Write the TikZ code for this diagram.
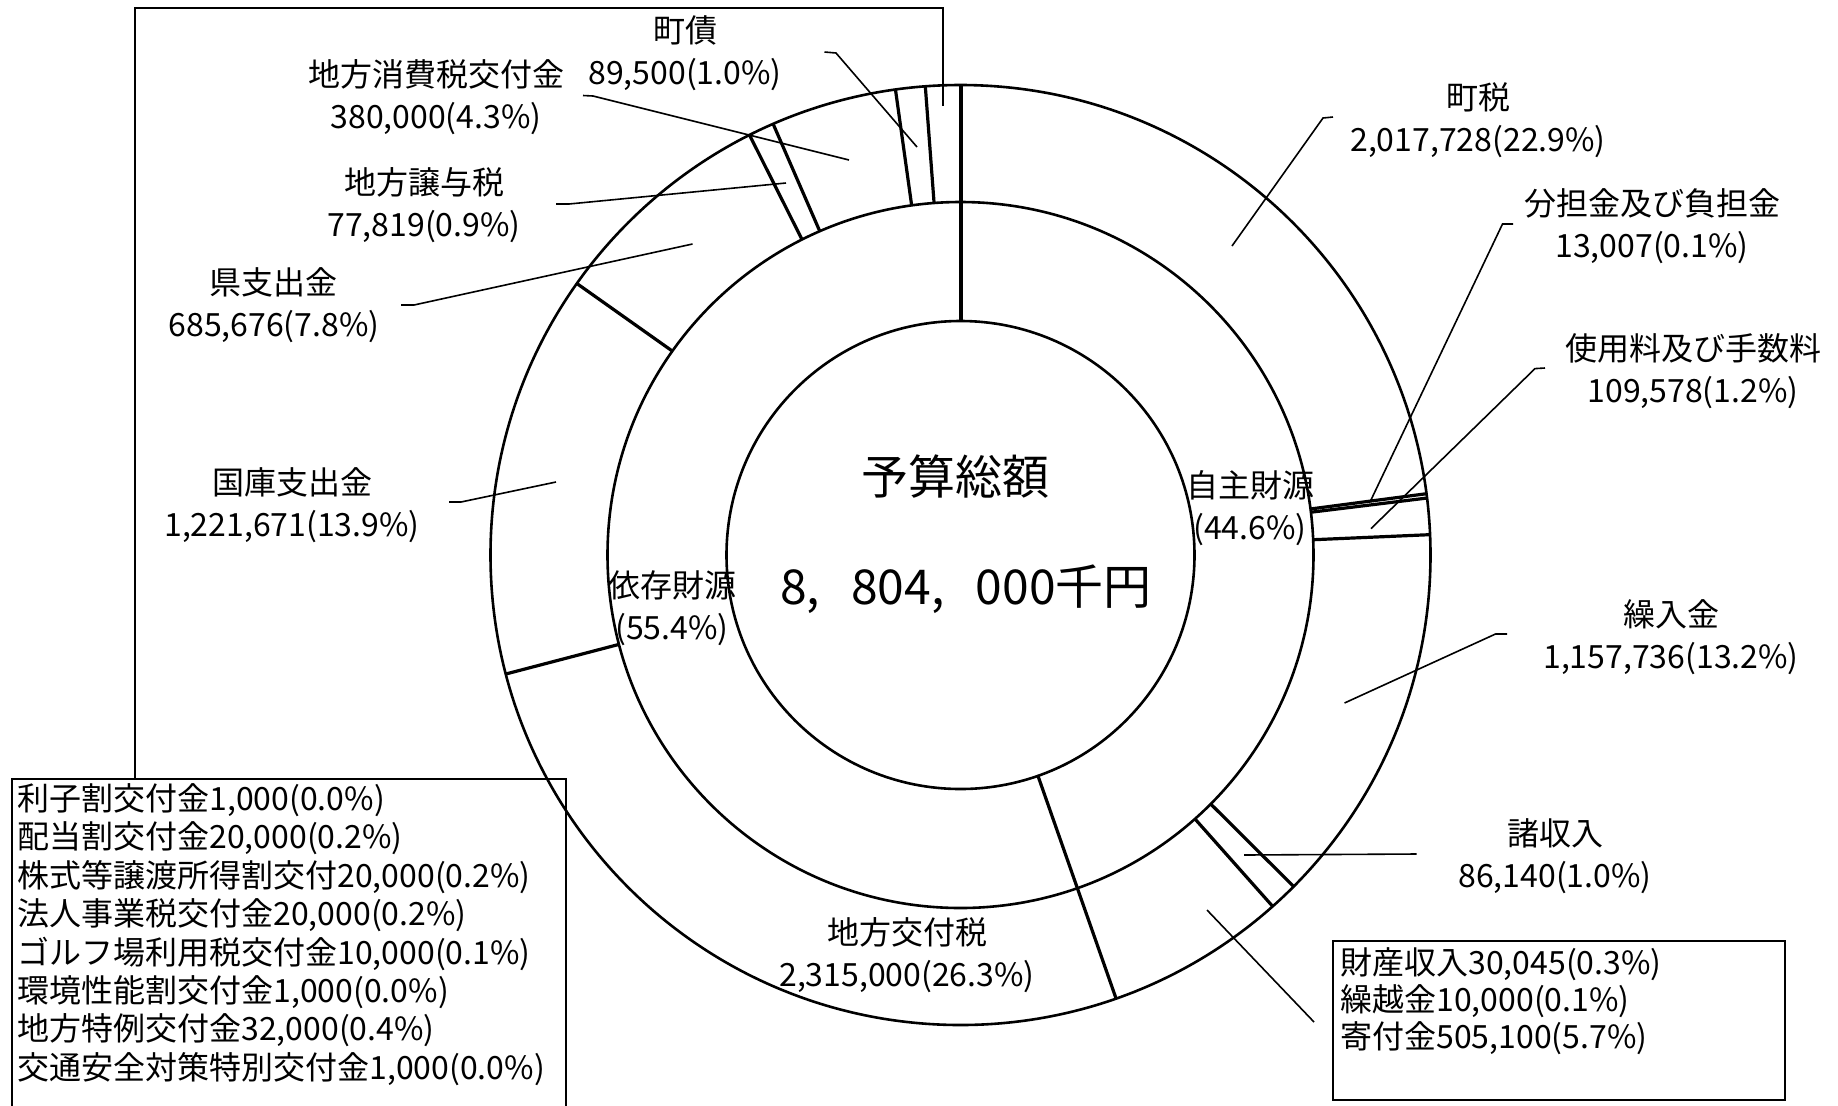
\documentclass[tikz,border=0pt]{standalone}
\usepackage{fontspec}
\setmainfont{Noto Sans CJK JP}
\begin{document}
\begin{tikzpicture}[x=0.5pt,y=-0.5pt,
  ring/.style={line width=1.3pt},
  sep/.style={line width=1.6pt},
  leader/.style={line width=0.8pt},
  frame/.style={line width=1pt},
  lbl/.style={align=center, inner sep=0pt, font=\fontsize{16}{21}\selectfont},
  boxtext/.style={align=left, inner sep=0pt, anchor=west},
  bigtext/.style={inner sep=0pt, font=\fontsize{23.5}{28}\selectfont}]

\useasboundingbox (0,0) rectangle (1838,1105);
\fill[white] (0,0) rectangle (1838,1105);
\coordinate (C) at (960.5,555);

% rings and separators
\begin{scope}[shift={(C)}, yscale=-1]
  \draw[ring] (0,0) circle[radius=470];
  \draw[ring] (0,0) circle[radius=353];
  \draw[ring] (0,0) circle[radius=234];
  \draw[sep, line width=2pt] (90:234) -- (90:470);
  \draw[sep] (-70.67:234) -- (-70.67:470);
  \foreach \a in {7.495, 6.963, 2.482, -44.859, -48.381,
                  94.294, 97.954, 113.492, 116.674, 144.712, 194.667}
    \draw[sep] (\a:353) -- (\a:470);
\end{scope}

% centre texts
\node[bigtext] (title) at (955,477) {予算総額};
\node[bigtext, font=\fontsize{24}{28}\selectfont] (total) at (966,589) {8,\hspace{0.65em}804,\hspace{0.65em}000千円};

% labels
\node[lbl] (choosai) at (685,53) {町債\\89,500(1.0\%)};
\node[lbl] (shohi) at (436,97) {地方消費税交付金\\380,000(4.3\%)};
\node[lbl] (joyo) at (424,205) {地方譲与税\\77,819(0.9\%)};
\node[lbl] (ken) at (274,305) {県支出金\\685,676(7.8\%)};
\node[lbl] (kokko) at (292,505) {国庫支出金\\1,221,671(13.9\%)};
\node[lbl] (izon) at (672,608) {依存財源\\(55.4\%)};
\node[lbl] (kofu) at (907,955) {地方交付税\\2,315,000(26.3\%)};
\node[lbl] (jishu) at (1250,508) {自主財源\\(44.6\%)};
\node[lbl] (chozei) at (1478,120) {町税\\2,017,728(22.9\%)};
\node[lbl] (buntan) at (1652,226) {分担金及び負担金\\13,007(0.1\%)};
\node[lbl] (shiyo) at (1693,371) {使用料及び手数料\\109,578(1.2\%)};
\node[lbl] (kuriire) at (1671,637) {繰入金\\1,157,736(13.2\%)};
\node[lbl] (shoshu) at (1555,856) {諸収入\\86,140(1.0\%)};

% left box
\draw[frame] (12,1110) -- (12,779) -- (566,779) -- (566,1110);
\node[boxtext, font=\fontsize{16}{19.2}\selectfont] (leftlist) at (17,934.5)
  {利子割交付金1,000(0.0\%)\\
   配当割交付金20,000(0.2\%)\\
   株式等譲渡所得割交付20,000(0.2\%)\\
   法人事業税交付金20,000(0.2\%)\\
   ゴルフ場利用税交付金10,000(0.1\%)\\
   環境性能割交付金1,000(0.0\%)\\
   地方特例交付金32,000(0.4\%)\\
   交通安全対策特別交付金1,000(0.0\%)};

% right box
\draw[frame] (1333,941) rectangle (1785,1100);
\node[boxtext, font=\fontsize{16}{18.5}\selectfont] (rightlist) at (1340,1001.5)
  {財産収入30,045(0.3\%)\\
   繰越金10,000(0.1\%)\\
   寄付金505,100(5.7\%)};

% leader coordinates
\coordinate (lbtop) at (135,779);
\coordinate (lbc1) at (135,8);
\coordinate (lbc2) at (943,8);
\coordinate (lbend) at (943,106);

\coordinate (k1a) at (824.5,52); \coordinate (k1b) at (836,53); \coordinate (k1c) at (917,147);
\coordinate (k2a) at (583,95.5); \coordinate (k2b) at (593,96); \coordinate (k2c) at (849,160);
\coordinate (k3a) at (556,204); \coordinate (k3b) at (569,204); \coordinate (k3c) at (786,183);
\coordinate (k4a) at (401,305); \coordinate (k4b) at (414,305); \coordinate (k4c) at (692.5,244);
\coordinate (k5a) at (449,502); \coordinate (k5b) at (461,502); \coordinate (k5c) at (556,482);
\coordinate (k6a) at (1333,117); \coordinate (k6b) at (1323,118); \coordinate (k6c) at (1232,246);
\coordinate (k7a) at (1513,224); \coordinate (k7b) at (1502.5,224); \coordinate (k7c) at (1370,502);
\coordinate (k8a) at (1545,368); \coordinate (k8b) at (1535,368.6); \coordinate (k8c) at (1371,528.6);
\coordinate (k9a) at (1507,634); \coordinate (k9b) at (1495.5,634); \coordinate (k9c) at (1344.5,703);
\coordinate (k10a) at (1416.5,854); \coordinate (k10b) at (1244,855);
\coordinate (k11a) at (1207,910); \coordinate (k11b) at (1314,1022);

\draw[leader] (lbtop) -- (lbc1) -- (lbc2) -- (lbend);
\draw[leader] (k1a) -- (k1b) -- (k1c);
\draw[leader] (k2a) -- (k2b) -- (k2c);
\draw[leader] (k3a) -- (k3b) -- (k3c);
\draw[leader] (k4a) -- (k4b) -- (k4c);
\draw[leader] (k5a) -- (k5b) -- (k5c);
\draw[leader] (k6a) -- (k6b) -- (k6c);
\draw[leader] (k7a) -- (k7b) -- (k7c);
\draw[leader] (k8a) -- (k8b) -- (k8c);
\draw[leader] (k9a) -- (k9b) -- (k9c);
\draw[leader] (k10a) -- (k10b);
\draw[leader] (k11a) -- (k11b);
\end{tikzpicture}
\end{document}
